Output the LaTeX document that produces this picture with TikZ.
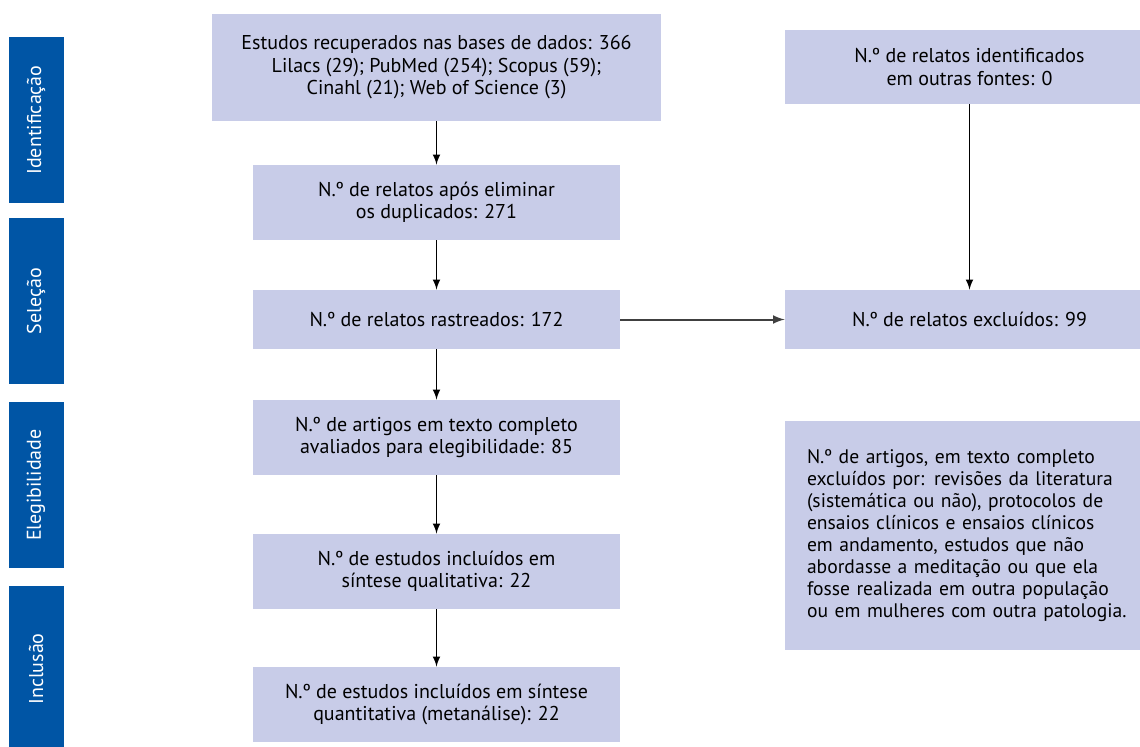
\documentclass[tikz,border=0pt]{standalone}
\usepackage{fontspec}
\setmainfont{PT Sans}
\usepackage{tikz}
\usetikzlibrary{positioning,arrows,shapes}
\definecolor{boxfill}{HTML}{C8CCE8}
\definecolor{barblue}{HTML}{0055A5}
\tikzstyle{stage}=[fill=barblue, text=white, rotate=90, minimum width=83pt, minimum height=27.5pt, inner sep=0pt, font=\fontsize{10}{12}\selectfont]
\tikzstyle{box}=[fill=boxfill, minimum width=183.5pt, minimum height=37.5pt, inner sep=0pt, align=center, font=\fontsize{10}{11.25}\selectfont]
\tikzstyle{rbox}=[box, minimum width=184.5pt, minimum height=37pt]

\begin{document}
\begin{tikzpicture}[x=0.5pt,y=-0.5pt,node distance=2cm,auto,>=latex]
\useasboundingbox (0,0) rectangle (1140,746);
\clip (0,0) rectangle (1140,746);

% fases
\node[stage] at (36,120) (ident) {Identificação};
\node[stage] at (36,301) (sel) {Seleção};
\node[stage] at (36,485) (eleg) {Elegibilidade};
\node[stage] at (36,669) (incl) {Inclusão};

% coluna principal
\node[box, minimum width=224.5pt, minimum height=53.5pt] at (436.5,67.5) (busca) {Estudos recuperados nas bases de dados: 366\\Lilacs (29); PubMed (254); Scopus (59);\\Cinahl (21); Web of Science (3)};
\node[box, below of = busca, node distance = 67.5pt] (dupl) {N.º de relatos após eliminar\\os duplicados: 271};
\node[box, minimum height=29.5pt, below of = dupl, node distance = 58.5pt] (rastr) {N.º de relatos rastreados: 172};
\node[box, below of = rastr, node distance = 59pt] (artigos) {N.º de artigos em texto completo\\avaliados para elegibilidade: 85};
\node[box, below of = artigos, node distance = 67pt] (quali) {N.º de estudos incluídos em\\síntese qualitativa: 22};
\node[box, below of = quali, node distance = 66.5pt] (quanti) {N.º de estudos incluídos em síntese\\quantitativa (metanálise): 22};

% coluna da direita
\node[rbox] at (969.5,67) (outras) {N.º de relatos identificados\\em outras fontes: 0};
\node[rbox, minimum height=29.5pt, below of = outras, node distance = 126.25pt] (excl) {N.º de relatos excluídos: 99};
\node[rbox, minimum height=114.5pt, text width=162.5pt, align=left, font=\fontsize{9.8}{11}\selectfont, below of = excl, node distance = 108pt] (motivos) {N.º de artigos, em texto completo\\excluídos por: revisões da literatura\\(sistemática ou não), protocolos de\\ensaios clínicos e ensaios clínicos\\em andamento, estudos que não\\abordasse a meditação ou que ela\\fosse realizada em outra população\\ou em mulheres com outra patologia.};

\draw[->, line width=0.75pt] (busca) -- (dupl);
\draw[->, line width=0.75pt] (dupl) -- (rastr);
\draw[->, line width=0.75pt] (rastr) -- (artigos);
\draw[->, line width=0.75pt] (artigos) -- (quali);
\draw[->, line width=0.75pt] (quali) -- (quanti);
\draw[->, line width=0.75pt] (outras) -- (excl);
\draw[->, line width=1pt, black!75] (rastr) -- (excl);
\end{tikzpicture}
\end{document}
